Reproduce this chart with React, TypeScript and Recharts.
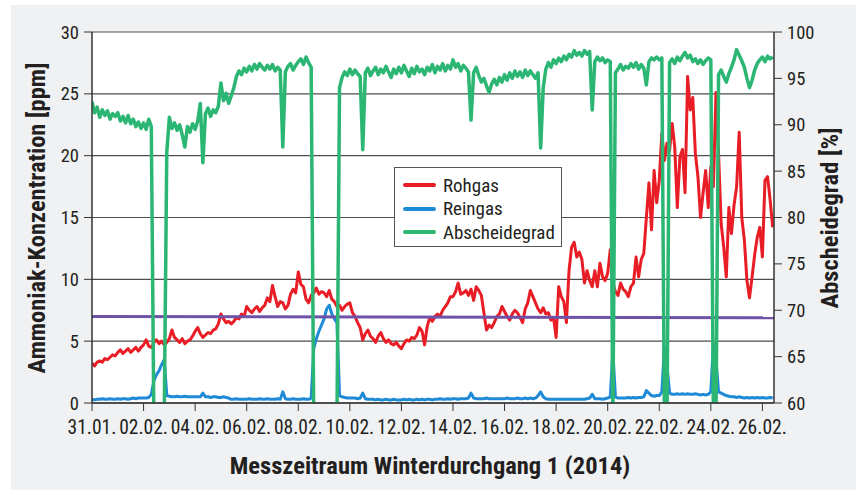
import { LineChart, Line, XAxis, YAxis, CartesianGrid } from 'recharts'

const FONT = "'Liberation Sans Narrow', 'Arial Narrow', 'Roboto Condensed', 'Liberation Sans', Arial, sans-serif"

// sampling step of the measurement series, in days since 31.01.
const STEP = 0.1

const TICK_DAYS = [0, 2, 4, 6, 8, 10, 12, 14, 16, 18, 20, 22, 24, 26]
const TICK_LABELS = ['31.01.', '02.02.', '04.02.', '06.02.', '08.02.', '10.02.', '12.02.', '14.02.', '16.02.', '18.02.', '20.02.', '22.02.', '24.02.', '26.02.']
const PPM_TICKS = [0, 5, 10, 15, 20, 25, 30]
const PCT_TICKS = [60, 65, 70, 75, 80, 85, 90, 95, 100]

// Rohgas [ppm]
const ROHGAS = [
  3.2, 3.0, 3.3, 3.4, 3.3, 3.6, 3.5, 3.7, 3.9, 3.8,
  4.1, 4.3, 4.0, 4.2, 4.4, 4.1, 4.3, 4.5, 4.2, 4.5,
  4.7, 5.1, 4.6, 4.5, 4.9, 5.1, 4.8, 5.0, 4.7, 4.9,
  5.2, 5.9, 5.3, 5.1, 4.9, 5.2, 4.8, 5.0, 5.1, 5.4,
  5.8, 6.1, 5.6, 5.3, 5.5, 5.7, 5.6, 5.9, 6.0, 6.4,
  7.2, 6.8, 6.5, 6.6, 6.4, 6.6, 6.9, 6.8, 7.2, 7.0,
  7.8, 7.5, 7.3, 7.6, 7.8, 7.4, 7.7, 7.9, 8.5, 8.2,
  9.5, 8.6, 7.8, 8.2, 8.1, 7.6, 7.9, 8.8, 9.2, 8.9,
  10.6, 9.6, 9.4, 8.4, 8.1, 8.7, 8.9, 9.3, 8.8, 9.0,
  8.9, 8.6, 9.1, 8.4, 8.2, 7.8, 7.9, 7.5, 7.8, 8.0,
  8.1, 7.3, 7.0, 6.5, 6.1, 5.1, 5.6, 5.9, 5.4, 5.2,
  4.9, 5.4, 5.7, 5.2, 4.9, 5.1, 4.8, 4.7, 4.9, 4.6,
  4.4, 4.8, 5.1, 5.0, 5.3, 5.2, 5.5, 6.1, 5.8, 4.7,
  6.2, 6.9, 6.6, 7.0, 7.2, 7.0, 7.5, 7.8, 8.1, 8.6,
  8.6, 9.0, 9.7, 8.8, 8.9, 9.1, 8.7, 9.2, 8.3, 9.4,
  9.1, 8.7, 7.3, 5.9, 6.3, 6.1, 6.5, 7.0, 7.2, 7.8,
  7.4, 7.0, 6.7, 7.2, 7.5, 7.3, 6.9, 6.5, 7.6, 8.1,
  9.1, 8.6, 8.1, 7.6, 7.3, 7.7, 7.2, 7.3, 6.7, 6.9,
  5.3, 9.4, 8.6, 8.2, 6.5, 10.7, 12.6, 13.0, 11.8, 12.2,
  11.6, 9.7, 10.7, 9.9, 9.4, 10.7, 9.4, 11.3, 10.2, 9.9,
  10.5, 12.4, 9.7, 9.0, 8.7, 9.7, 9.2, 9.0, 8.6, 9.4,
  9.7, 11.8, 10.2, 11.6, 12.1, 15.0, 17.8, 14.0, 18.8, 16.2,
  18.0, 21.8, 19.6, 21.0, 20.4, 22.6, 20.7, 15.8, 19.9, 20.5,
  17.0, 26.4, 23.7, 24.7, 20.2, 18.3, 15.0, 17.0, 18.8, 15.8,
  19.1, 17.5, 25.1, 20.2, 14.5, 12.6, 10.2, 15.8, 13.7, 16.0,
  17.5, 21.9, 15.0, 13.2, 9.9, 8.5, 10.2, 12.0, 13.4, 14.2,
  11.8, 18.0, 18.3, 16.4, 14.2,
]

// Reingas [ppm]
const REINGAS = [
  0.3, 0.25, 0.3, 0.3, 0.35, 0.3, 0.3, 0.35, 0.3, 0.3,
  0.35, 0.3, 0.35, 0.35, 0.3, 0.35, 0.4, 0.35, 0.4, 0.4,
  0.4, 0.4, 0.45, 0.7, 1.8, 2.3, 2.6, 3.1, 3.5, 0.6,
  0.55, 0.5, 0.5, 0.55, 0.5, 0.5, 0.55, 0.5, 0.5, 0.5,
  0.5, 0.5, 0.5, 0.8, 0.5, 0.5, 0.45, 0.5, 0.5, 0.45,
  0.45, 0.5, 0.45, 0.4, 0.3, 0.3, 0.35, 0.3, 0.3, 0.3,
  0.3, 0.35, 0.3, 0.3, 0.3, 0.35, 0.3, 0.3, 0.35, 0.3,
  0.3, 0.3, 0.35, 0.3, 0.9, 0.35, 0.3, 0.3, 0.35, 0.3,
  0.3, 0.3, 0.35, 0.3, 0.3, 0.4, 4.4, 5.2, 5.8, 6.3,
  6.8, 7.6, 7.9, 7.2, 6.8, 6.5, 0.6, 0.5, 0.45, 0.4,
  0.4, 0.4, 0.4, 0.35, 0.4, 0.8, 0.35, 0.3, 0.3, 0.3,
  0.25, 0.3, 0.25, 0.25, 0.3, 0.25, 0.25, 0.3, 0.25, 0.25,
  0.25, 0.3, 0.25, 0.3, 0.25, 0.25, 0.3, 0.25, 0.3, 0.25,
  0.3, 0.3, 0.25, 0.3, 0.3, 0.35, 0.3, 0.3, 0.35, 0.3,
  0.35, 0.35, 0.3, 0.35, 0.35, 0.35, 0.4, 0.8, 0.4, 0.35,
  0.35, 0.35, 0.35, 0.4, 0.35, 0.35, 0.35, 0.35, 0.35, 0.35,
  0.35, 0.4, 0.35, 0.35, 0.35, 0.4, 0.35, 0.35, 0.4, 0.35,
  0.4, 0.35, 0.4, 0.6, 0.9, 0.5, 0.35, 0.3, 0.3, 0.3,
  0.3, 0.3, 0.3, 0.3, 0.3, 0.3, 0.3, 0.3, 0.3, 0.3,
  0.3, 0.3, 0.35, 0.4, 0.7, 0.35, 0.35, 0.35, 0.3, 0.35,
  0.4, 0.5, 4.2, 0.5, 0.4, 0.4, 0.4, 0.4, 0.45, 0.4,
  0.45, 0.4, 0.45, 0.45, 0.5, 1.0, 0.8, 0.6, 0.55, 0.6,
  0.6, 0.9, 4.5, 3.0, 0.8, 0.7, 0.7, 0.75, 0.7, 0.75,
  0.7, 0.75, 0.7, 0.7, 0.75, 0.7, 0.65, 0.7, 0.65, 0.7,
  0.9, 4.8, 3.5, 0.9, 0.8, 0.7, 0.6, 0.55, 0.5, 0.5,
  0.45, 0.5, 0.45, 0.4, 0.45, 0.4, 0.45, 0.4, 0.45, 0.4,
  0.45, 0.4, 0.4, 0.45, 0.4,
]

// Abscheidegrad [%] (values below 60 run off the axis)
const ABSCHEIDEGRAD = [
  92.5, 91.3, 91.9, 90.8, 91.6, 91.0, 91.5, 90.6, 91.2, 90.9,
  91.3, 90.4, 90.9, 90.2, 91.0, 90.1, 90.6, 89.8, 90.3, 89.6,
  90.2, 89.5, 90.6, 89.8, 58, 58, 58, 58, 58, 87.0,
  90.8, 89.6, 90.2, 89.4, 90.0, 88.9, 87.6, 89.8, 89.2, 90.1,
  89.5, 90.4, 92.3, 85.9, 91.2, 91.8, 90.9, 91.6, 91.3, 92.0,
  94.5, 92.6, 93.4, 92.3, 93.1, 94.0, 95.2, 95.8, 95.4, 96.1,
  95.7, 96.3, 95.8, 96.5, 96.0, 96.6, 96.2, 95.9, 96.4, 96.0,
  96.5, 95.8, 96.2, 95.9, 87.6, 95.7, 96.3, 96.6, 95.9, 96.4,
  96.8, 97.1, 96.5, 97.3, 96.7, 96.2, 58, 58, 58, 58,
  58, 58, 58, 58, 58, 58, 94.0, 95.1, 95.7, 95.3,
  96.0, 95.4, 95.9, 95.5, 95.2, 87.3, 95.6, 96.1, 95.3, 95.8,
  96.2, 95.4, 96.0, 95.6, 96.3, 95.7, 95.1, 96.0, 95.5, 96.2,
  95.6, 96.4, 95.8, 95.2, 96.1, 95.5, 96.3, 95.7, 96.0, 95.4,
  96.2, 95.8, 96.5, 95.6, 96.3, 95.9, 96.6, 95.8, 96.4, 96.0,
  97.0, 96.2, 96.6, 95.8, 96.4, 96.1, 95.7, 90.5, 95.6, 96.2,
  95.3, 94.6, 95.0, 94.2, 93.5, 94.4, 94.9, 94.3, 95.1, 94.6,
  95.4, 94.8, 95.6, 95.0, 95.8, 95.2, 95.7, 95.1, 95.9, 95.3,
  95.8, 95.4, 95.0, 95.6, 87.5, 94.0, 96.0, 96.7, 96.2, 97.0,
  96.6, 97.2, 96.8, 97.4, 97.0, 97.6, 97.3, 98.0, 97.5, 97.8,
  97.4, 98.0, 97.6, 97.9, 91.6, 96.8, 97.3, 96.9, 97.2, 96.7,
  97.0, 96.8, 58, 95.6, 96.0, 96.5, 95.9, 96.3, 96.1, 96.6,
  96.2, 96.7, 96.0, 96.5, 96.1, 94.3, 96.8, 97.2, 97.0, 97.3,
  97.0, 97.2, 58, 58, 96.7, 97.1, 96.6, 97.3, 96.9, 97.4,
  97.8, 97.2, 97.5, 96.8, 97.1, 96.6, 97.0, 96.5, 96.9, 97.2,
  97.0, 58, 58, 95.4, 95.9, 95.2, 94.6, 95.5, 96.2, 97.0,
  98.1, 97.5, 96.9, 96.2, 95.0, 94.0, 94.8, 95.9, 96.6, 97.0,
  97.3, 96.8, 97.4, 97.1, 97.3,
]

// purple limit line [ppm], start and end
const LIMIT_DAYS = [0, 26.45]
const LIMIT_PPM = [7.0, 6.9]

const COLORS = { roh: '#e81d25', rein: '#1f8ad6', ab: '#2bb673', limit: '#6f52a8' }

const table = ROHGAS.map((v, i) => ({
  t: Math.round(i * STEP * 10) / 10,
  roh: v,
  rein: REINGAS[i],
  ab: ABSCHEIDEGRAD[i],
}))
const limitData = LIMIT_DAYS.map((t, i) => ({ t, v: LIMIT_PPM[i] }))

const tickStyle = { fontSize: 18.5, fill: '#231f20', fontFamily: FONT }
const titleStyle = { position: 'absolute' as const, whiteSpace: 'nowrap' as const, fontWeight: 700, fontSize: 24.5, color: '#231f20', lineHeight: 1 }

const legendItems = [
  { name: 'Rohgas', color: COLORS.roh },
  { name: 'Reingas', color: COLORS.rein },
  { name: 'Abscheidegrad', color: COLORS.ab },
]

export default function App() {
  return (
    <div style={{ position: 'absolute', left: 0, top: 0, width: 856, height: 490, background: '#fff', fontFamily: FONT }}>
      <div style={{ position: 'absolute', left: 11, top: 5, width: 845, height: 485, background: '#f0f1f3' }} />
      <div style={{ position: 'absolute', left: 0, top: 0 }}>
        <LineChart width={856} height={490} data={table} margin={{ top: 32, right: 32, bottom: 57, left: 32 }}>
          <CartesianGrid yAxisId="left" vertical={false} stroke="#4d4d4d" strokeWidth={1.2} fill="#fff" fillOpacity={1} />
          <XAxis
            dataKey="t"
            type="number"
            domain={[0, 26.45]}
            ticks={TICK_DAYS}
            interval={0}
            allowDataOverflow
            height={30}
            tick={{ ...tickStyle, fontSize: 19.5 }}
            tickSize={8}
            tickMargin={9}
            tickLine={{ stroke: '#333' }}
            axisLine={{ stroke: '#333', strokeWidth: 1.5 }}
            tickFormatter={(v: number) => TICK_LABELS[TICK_DAYS.indexOf(v)] ?? ''}
          />
          <YAxis
            yAxisId="left"
            domain={[0, 30]}
            ticks={PPM_TICKS}
            interval={0}
            width={60}
            tick={tickStyle}
            tickSize={8}
            tickMargin={5}
            tickLine={{ stroke: '#333' }}
            axisLine={{ stroke: '#333', strokeWidth: 1.5 }}
          />
          <YAxis
            yAxisId="right"
            orientation="right"
            domain={[60, 100]}
            ticks={PCT_TICKS}
            interval={0}
            allowDataOverflow
            width={50}
            tick={{ ...tickStyle, textAnchor: 'start' }}
            tickSize={8}
            tickMargin={5}
            tickLine={{ stroke: '#333' }}
            axisLine={{ stroke: '#333', strokeWidth: 1.5 }}
          />
          <Line yAxisId="left" dataKey="roh" stroke={COLORS.roh} strokeWidth={3} dot={false} activeDot={false} isAnimationActive={false} strokeLinejoin="round" />
          <Line yAxisId="left" dataKey="rein" stroke={COLORS.rein} strokeWidth={3} dot={false} activeDot={false} isAnimationActive={false} strokeLinejoin="round" />
          <Line yAxisId="left" data={limitData} dataKey="v" stroke={COLORS.limit} strokeWidth={3} dot={false} activeDot={false} isAnimationActive={false} />
          <Line yAxisId="right" dataKey="ab" stroke={COLORS.ab} strokeWidth={3.5} dot={false} activeDot={false} isAnimationActive={false} strokeLinejoin="round" />
        </LineChart>
      </div>

      {/* axis titles */}
      <div style={{ ...titleStyle, left: 37, top: 218, transform: 'translate(-50%, -50%) rotate(-90deg)' }}>
        Ammoniak-Konzentration [ppm]
      </div>
      <div style={{ ...titleStyle, left: 830, top: 218, transform: 'translate(-50%, -50%) rotate(-90deg)' }}>
        Abscheidegrad [%]
      </div>
      <div style={{ ...titleStyle, left: 430, top: 466, transform: 'translate(-50%, -50%)' }}>
        Messzeitraum Winterdurchgang 1 (2014)
      </div>

      {/* legend */}
      <div style={{ position: 'absolute', left: 394, top: 167, width: 166, height: 78, border: '1px solid #555', background: '#fff', boxSizing: 'content-box' }}>
        {legendItems.map((it, i) => (
          <div key={it.name} style={{ position: 'absolute', left: 8, top: 6 + i * 23.5, display: 'flex', alignItems: 'center', height: 22 }}>
            <div style={{ width: 33, height: 4, borderRadius: 2, background: it.color }} />
            <span style={{ marginLeft: 7, fontSize: 19, color: '#231f20' }}>{it.name}</span>
          </div>
        ))}
      </div>
    </div>
  )
}
